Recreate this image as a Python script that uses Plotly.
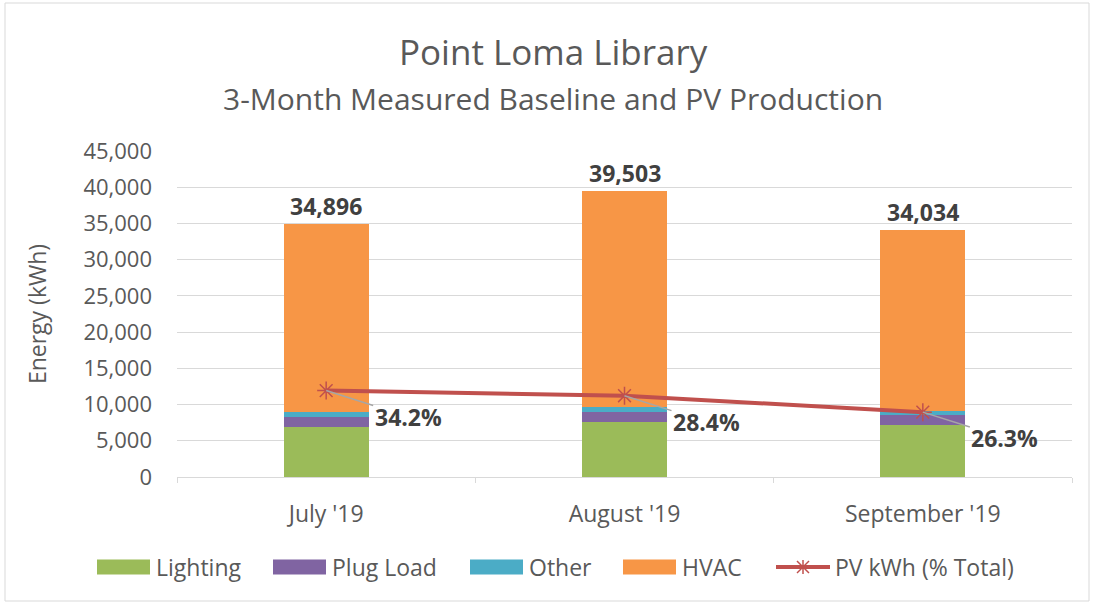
import plotly.graph_objects as go

months = ["July '19", "August '19", "September '19"]
lighting = [6900, 7590, 7180]
plug_load = [1380, 1380, 1380]
other = [690, 690, 550]
hvac = [25926, 29843, 24924]
totals = [34896, 39503, 34034]
pv_pct = [34.2, 28.4, 26.3]
pv_kwh = [round(t * p / 100) for t, p in zip(totals, pv_pct)]

series_names = ["Lighting", "Plug Load", "Other", "HVAC", "PV kWh (% Total)"]
series_colors = ["#9BBB59", "#8064A2", "#4BACC6", "#F79646", "#C0504D"]

FONT = "Open Sans"
GRAY = "#595959"
DARK = "#404040"

W, H = 1093, 605
ML, MR, MT, MB = 177, 21, 151, 128
PW, PH = W - ML - MR, H - MT - MB


def px(xp):
    return (xp - ML) / PW


def py(yp):
    return (H - MB - yp) / PH


fig = go.Figure()
bar_w = 0.285
for name, vals, col in zip(series_names[:4], [lighting, plug_load, other, hvac], series_colors[:4]):
    fig.add_trace(go.Bar(x=months, y=vals, name=name, marker_color=col,
                         marker_line_width=0, width=bar_w, showlegend=False))

fig.add_trace(go.Scatter(x=months, y=pv_kwh, name=series_names[4], mode="lines+markers",
                         line=dict(color=series_colors[4], width=4), showlegend=False,
                         marker=dict(symbol="asterisk-open", size=15,
                                     line=dict(color=series_colors[4], width=1.5),
                                     color=series_colors[4])))

annotations = []
for m, t in zip(months, totals):
    annotations.append(dict(x=m, y=t, text=f"<b>{t:,}</b>", showarrow=False, yanchor="bottom",
                            yshift=0, font=dict(family=FONT, size=23, color=DARK)))
for m, v, p in zip(months, pv_kwh, pv_pct):
    annotations.append(dict(x=m, y=v, text=f"<b>{p}%</b>", showarrow=True, arrowhead=0,
                            arrowwidth=1.5, arrowcolor="#A6A6A6", ax=82, ay=26,
                            font=dict(family=FONT, size=23, color=DARK)))
annotations.append(dict(xref="paper", yref="paper", x=px(553), y=py(52), showarrow=False,
                        text="Point Loma Library", xanchor="center", yanchor="middle",
                        font=dict(family=FONT, size=35, color=GRAY)))
annotations.append(dict(xref="paper", yref="paper", x=px(553), y=py(98), showarrow=False,
                        text="3-Month Measured Baseline and PV Production", xanchor="center",
                        yanchor="middle", font=dict(family=FONT, size=30, color=GRAY)))

shapes = [dict(type="rect", xref="paper", yref="paper", x0=px(5), x1=px(1089),
               y0=py(601), y1=py(3), line=dict(color="#D9D9D9", width=1), layer="below")]

# manual legend (wide keys like the original)
leg_y = 567
key_x = [97, 273, 470, 623, 776]
for i, (name, col, kx) in enumerate(zip(series_names, series_colors, key_x)):
    if i < 4:
        shapes.append(dict(type="rect", xref="paper", yref="paper", x0=px(kx), x1=px(kx + 53),
                           y0=py(leg_y + 7.5), y1=py(leg_y - 7.5), fillcolor=col,
                           line=dict(width=0)))
    else:
        shapes.append(dict(type="line", xref="paper", yref="paper", x0=px(kx), x1=px(kx + 54),
                           y0=py(leg_y), y1=py(leg_y), line=dict(color=col, width=4)))
        cx = kx + 27
        for dx, dy in [(0, 7), (6, 6), (-6, 6)]:
            shapes.append(dict(type="line", xref="paper", yref="paper", x0=px(cx - dx),
                               x1=px(cx + dx), y0=py(leg_y - dy), y1=py(leg_y + dy),
                               line=dict(color=col, width=1.5)))
    annotations.append(dict(xref="paper", yref="paper", x=px(kx + 57), y=py(leg_y),
                            text=name, showarrow=False, xanchor="left", yanchor="middle",
                            font=dict(family=FONT, size=23, color=GRAY)))

fig.update_layout(
    barmode="stack",
    width=W, height=H,
    margin=dict(l=ML, r=MR, t=MT, b=MB, autoexpand=False),
    paper_bgcolor="white", plot_bgcolor="white",
    font=dict(family=FONT, color=GRAY, size=22),
    showlegend=False,
    annotations=annotations,
    shapes=shapes,
)
fig.update_xaxes(type="category", tickson="boundaries", ticks="outside", ticklen=5,
                 tickcolor="#D9D9D9", showline=True, linecolor="#D9D9D9", linewidth=1,
                 showgrid=False, automargin=False, ticklabelstandoff=16,
                 tickfont=dict(family=FONT, size=23, color=GRAY))
fig.update_yaxes(range=[0, 45000], dtick=5000, tickformat=",", showgrid=True,
                 gridcolor="#D9D9D9", gridwidth=1, zeroline=False, showline=False,
                 automargin=False, ticklabelstandoff=24,
                 tickfont=dict(family=FONT, size=22, color=GRAY),
                 title=dict(text="Energy (kWh)", font=dict(family=FONT, size=23, color=GRAY),
                            standoff=30))

fig.write_html("out.html", config={"displayModeBar": False},
               post_script="document.body.style.margin='0';")
